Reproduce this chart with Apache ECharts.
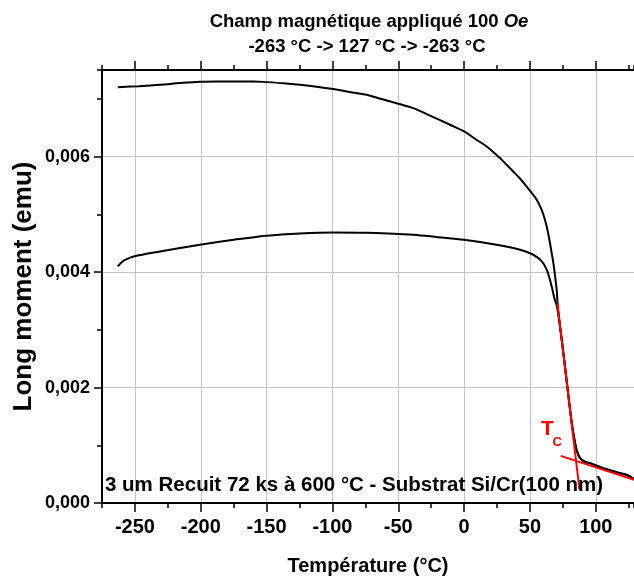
<!DOCTYPE html>
<html><head><meta charset="utf-8">
<script src="https://cdn.jsdelivr.net/npm/echarts@6/dist/echarts.min.js"></script>
<style>html,body{margin:0;padding:0;background:#fff}#c{width:634px;height:583px}</style>
</head><body><div id="c"></div>
<script>
// Warming branch (-263 -> 127 °C)
const warmTemp = [-263, -260, -257.5, -251, -231, -200.5, -175, -150, -124.5, -99.5, -74, -50, -38.5, -20, 0, 24.5, 42.5, 52.5, 59, 62.7, 64.5, 66.5, 68.5, 70.5, 72, 74, 77.8, 81.7, 84.2, 86, 88, 90.5, 93, 95.6, 100, 105.7, 112, 118.4, 124, 128.5];
const warmMoment = [0.00410, 0.00417, 0.00421, 0.00427, 0.004357, 0.004473, 0.004559, 0.004629, 0.004668, 0.004686, 0.004681, 0.004658, 0.004646, 0.004605, 0.004559, 0.004473, 0.004386, 0.00430, 0.004184, 0.00404, 0.00392, 0.00375, 0.00355, 0.00340, 0.00320, 0.00285, 0.00213, 0.00139, 0.00104, 0.00088, 0.00078, 0.00073, 0.000703, 0.00069, 0.00065, 0.000604, 0.00056, 0.000518, 0.00048, 0.00042];
// Cooling branch (127 -> -263 °C)
const coolTemp = [128.5, 124, 118.4, 112, 105.7, 100, 95.6, 93, 90.5, 88, 86, 84.2, 81.7, 77.8, 74, 72, 71, 70.3, 69.4, 67.8, 66.5, 64.5, 62.7, 60.8, 58.9, 55.1, 51.3, 47.5, 42.4, 37.3, 32.2, 27.2, 17.1, 8, 0, -11.5, -23.4, -38.6, -50, -62, -74, -87, -99.3, -112, -124.6, -137, -149.9, -160.1, -175.3, -188, -200.6, -215.8, -231, -247, -263];
const coolMoment = [0.00042, 0.00048, 0.000518, 0.00056, 0.000604, 0.00065, 0.00069, 0.000703, 0.00073, 0.00078, 0.00088, 0.00104, 0.00139, 0.00213, 0.00285, 0.00320, 0.00345, 0.00369, 0.00387, 0.00415, 0.004329, 0.00459, 0.00479, 0.00495, 0.005079, 0.005252, 0.00537, 0.005482, 0.00562, 0.005742, 0.00586, 0.005974, 0.006175, 0.006313, 0.006435, 0.00656, 0.006684, 0.00684, 0.006914, 0.006992, 0.00707, 0.00712, 0.007169, 0.00721, 0.007243, 0.00727, 0.00729, 0.007302, 0.0073, 0.0073, 0.007296, 0.007273, 0.007243, 0.00722, 0.007203];
// Tc tangent lines
const tcSteepTemp = [70.8, 87.6];
const tcSteepMoment = [0.00346, 0.00023];
const tcFlatTemp = [73.3, 129];
const tcFlatMoment = [0.000817, 0.00040];
// Ticks
const xMajorTicks = [-250, -200, -150, -100, -50, 0, 50, 100];
const yMajorTicks = [0, 0.002, 0.004, 0.006];

const FONT = '"Liberation Sans", Arial, sans-serif';
const pairs = (a, b) => a.map((v, i) => [v, b[i]]);
const X = {min: -275, max: 129, interval: 25};
const Y = {min: 0, max: 0.0075, interval: 0.001};
const axLine = {show: true, onZero: false, lineStyle: {color: '#000', width: 2}};

const chart = echarts.init(document.getElementById('c'), null, {renderer: 'canvas'});
chart.setOption({
  animation: false,
  backgroundColor: '#fff',
  title: [
    {text: 'Champ magnétique appliqué 100 {i|Oe}', left: 364, top: 7, textAlign: 'center',
     textStyle: {fontFamily: FONT, fontSize: 18.5, fontWeight: 'bold', color: '#000',
       rich: {i: {fontFamily: FONT, fontSize: 18.5, fontWeight: 'bold', fontStyle: 'italic', color: '#000'}}}},
    {text: '-263 °C -> 127 °C -> -263 °C', left: 362, top: 32, textAlign: 'center',
     textStyle: {fontFamily: FONT, fontSize: 18.5, fontWeight: 'bold', color: '#000'}}
  ],
  grid: {left: 102, right: 0, top: 70, bottom: 80, containLabel: false},
  xAxis: [
    Object.assign({type: 'value', position: 'bottom', axisLine: axLine,
      axisTick: {show: true, inside: false, length: 9, customValues: xMajorTicks, lineStyle: {color: '#000', width: 1.5}},
      axisLabel: {show: true, customValues: xMajorTicks, margin: 14, fontFamily: FONT, fontSize: 20, fontWeight: 'bold', color: '#000'},
      splitLine: {show: true, lineStyle: {color: '#c4c4c4', width: 1}},
      name: 'Température (°C)', nameLocation: 'middle', nameGap: 53, nameMoveOverlap: false,
      nameTextStyle: {fontFamily: FONT, fontSize: 20, fontWeight: 'bold', color: '#000'}}, X),
    Object.assign({type: 'value', position: 'bottom', axisLine: axLine,
      axisTick: {show: true, inside: false, length: 5, lineStyle: {color: '#000', width: 1.5}},
      axisLabel: {show: false}, splitLine: {show: false}}, X),
    Object.assign({type: 'value', position: 'top', axisLine: axLine,
      axisTick: {show: true, inside: false, length: 9, customValues: xMajorTicks, lineStyle: {color: '#000', width: 1.5}},
      axisLabel: {show: false}, splitLine: {show: false}}, X),
    Object.assign({type: 'value', position: 'top', axisLine: axLine,
      axisTick: {show: true, inside: false, length: 5, lineStyle: {color: '#000', width: 1.5}},
      axisLabel: {show: false}, splitLine: {show: false}}, X)
  ],
  yAxis: [
    Object.assign({type: 'value', position: 'left', axisLine: axLine,
      axisTick: {show: true, inside: false, length: 8, customValues: yMajorTicks, lineStyle: {color: '#000', width: 1.5}},
      axisLabel: {show: true, customValues: yMajorTicks, margin: 12, fontFamily: FONT, fontSize: 18, fontWeight: 'bold', color: '#000',
        formatter: v => v.toFixed(3).replace('.', ',')},
      splitLine: {show: true, lineStyle: {color: '#c4c4c4', width: 1}},
      name: 'Long moment (emu)', nameLocation: 'middle', nameGap: 65, nameMoveOverlap: false,
      nameTextStyle: {fontFamily: FONT, fontSize: 26, fontWeight: 'bold', color: '#000'}}, Y),
    Object.assign({type: 'value', position: 'left', axisLine: axLine,
      axisTick: {show: true, inside: false, length: 5, lineStyle: {color: '#000', width: 1.5}},
      axisLabel: {show: false}, splitLine: {show: false}}, Y)
  ],
  series: [
    {type: 'line', name: 'warm', data: pairs(warmTemp, warmMoment), showSymbol: false, smooth: 0.35,
     lineStyle: {color: '#000', width: 2}, z: 3},
    {type: 'line', name: 'cool', data: pairs(coolTemp, coolMoment), showSymbol: false, smooth: 0.35,
     lineStyle: {color: '#000', width: 2}, z: 3},
    {type: 'line', name: 'tc1', data: pairs(tcSteepTemp, tcSteepMoment), showSymbol: false,
     lineStyle: {color: '#ff0000', width: 2}, z: 4},
    {type: 'line', name: 'tc2', data: pairs(tcFlatTemp, tcFlatMoment), showSymbol: false,
     lineStyle: {color: '#ff0000', width: 2}, z: 4}
  ],
  graphic: [
    {type: 'text', left: 105, top: 475, z: 10,
     style: {text: '3 um Recuit 72 ks à 600 °C - Substrat Si/Cr(100 nm)', font: 'bold 20.5px ' + FONT, fill: '#000'}},
    {type: 'text', left: 541, top: 419, z: 10,
     style: {text: 'T', font: 'bold 21px ' + FONT, fill: '#ff0000'}},
    {type: 'text', left: 552.5, top: 436, z: 10,
     style: {text: 'C', font: 'bold 13px ' + FONT, fill: '#ff0000'}}
  ]
});
</script>
</body></html>
